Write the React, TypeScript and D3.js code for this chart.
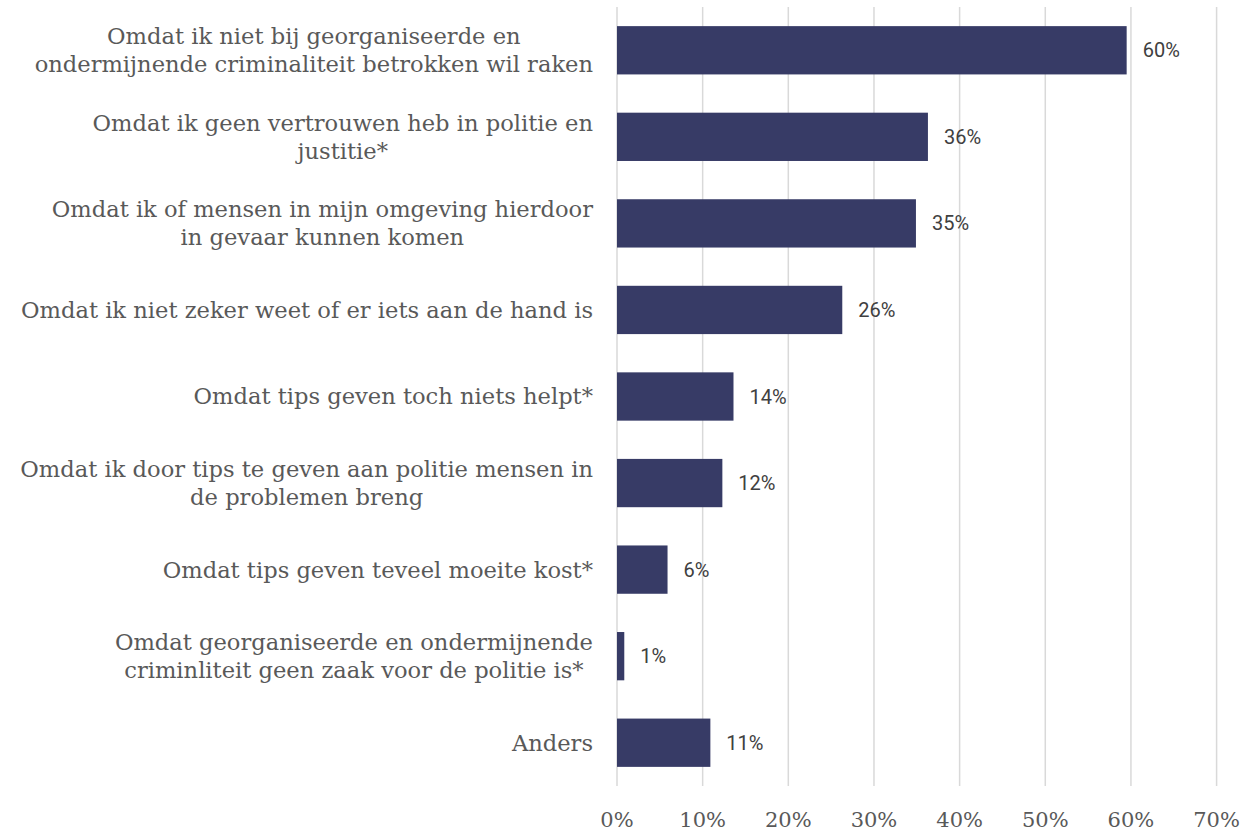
import React, { useEffect, useRef } from 'react';
import * as d3 from 'd3';

// categorieën (regeleinden zoals in de figuur)
const categories = [
  ['Omdat ik niet bij georganiseerde en', 'ondermijnende criminaliteit betrokken wil raken'],
  ['Omdat ik geen vertrouwen heb in politie en', 'justitie*'],
  ['Omdat ik of mensen in mijn omgeving hierdoor', 'in gevaar kunnen komen'],
  ['Omdat ik niet zeker weet of er iets aan de hand is'],
  ['Omdat tips geven toch niets helpt*'],
  ['Omdat ik door tips te geven aan politie mensen in', 'de problemen breng'],
  ['Omdat tips geven teveel moeite kost*'],
  ['Omdat georganiseerde en ondermijnende', 'criminliteit geen zaak voor de politie is*'],
  ['Anders'],
];
const values = [59.5, 36.3, 34.9, 26.3, 13.6, 12.3, 5.9, 0.85, 10.9];
const valueLabels = ['60%', '36%', '35%', '26%', '14%', '12%', '6%', '1%', '11%'];
const xTicks = [0, 10, 20, 30, 40, 50, 60, 70];

const W = 1248;
const H = 831;

export default function App() {
  const ref = useRef<SVGSVGElement>(null);

  useEffect(() => {
    document.body.style.margin = '0';
    const svg = d3.select(ref.current);
    svg.selectAll('*').remove();

    const x = d3.scaleLinear().domain([0, 70]).range([617, 1216.6]);
    const y = d3
      .scaleBand<number>()
      .domain(d3.range(values.length))
      .range([7, 786])
      .paddingInner(0.442)
      .paddingOuter(0.221);

    // rasterlijnen
    svg
      .append('g')
      .selectAll('line')
      .data(xTicks)
      .join('line')
      .attr('x1', (d) => x(d))
      .attr('x2', (d) => x(d))
      .attr('y1', 7)
      .attr('y2', 786)
      .attr('stroke', '#d9d9d9')
      .attr('stroke-width', 1.5);

    // balken
    svg
      .append('g')
      .selectAll('rect')
      .data(values)
      .join('rect')
      .attr('x', x(0))
      .attr('y', (_, i) => y(i)!)
      .attr('width', (d) => x(d) - x(0))
      .attr('height', y.bandwidth())
      .attr('fill', '#373b66');

    // waardelabels
    svg
      .append('g')
      .selectAll('text')
      .data(values)
      .join('text')
      .attr('x', (d) => x(d) + 16)
      .attr('y', (_, i) => y(i)! + y.bandwidth() / 2)
      .attr('dy', '0.35em')
      .attr('font-family', 'Roboto, sans-serif')
      .attr('font-size', 20)
      .attr('fill', '#404040')
      .text((_, i) => valueLabels[i]);

    // x-as labels
    svg
      .append('g')
      .selectAll('text')
      .data(xTicks)
      .join('text')
      .attr('x', (d) => x(d))
      .attr('y', 827)
      .attr('text-anchor', 'middle')
      .attr('font-family', '"DejaVu Serif", serif')
      .attr('font-size', 21)
      .attr('fill', '#595959')
      .text((d) => `${d}%`);

    // categorielabels: blok rechts uitgelijnd, regels gecentreerd
    const right = 593;
    const lineH = 28;
    categories.forEach((lines, i) => {
      const cy = y(i)! + y.bandwidth() / 2;
      const g = svg.append('g');
      const texts = g
        .selectAll('text')
        .data(lines)
        .join('text')
        .attr('y', (_, j) => cy + (j - (lines.length - 1) / 2) * lineH)
        .attr('dy', '0.35em')
        .attr('text-anchor', 'middle')
        .attr('font-family', '"DejaVu Serif", serif')
        .attr('font-size', 22.6)
        .attr('fill', '#595959')
        .text((d) => d);
      const maxW = d3.max(texts.nodes(), (n) => (n as SVGTextElement).getComputedTextLength()) || 0;
      texts.attr('x', right - maxW / 2);
    });
  }, []);

  return <svg ref={ref} width={W} height={H} style={{ display: 'block', background: '#fff' }} />;
}
